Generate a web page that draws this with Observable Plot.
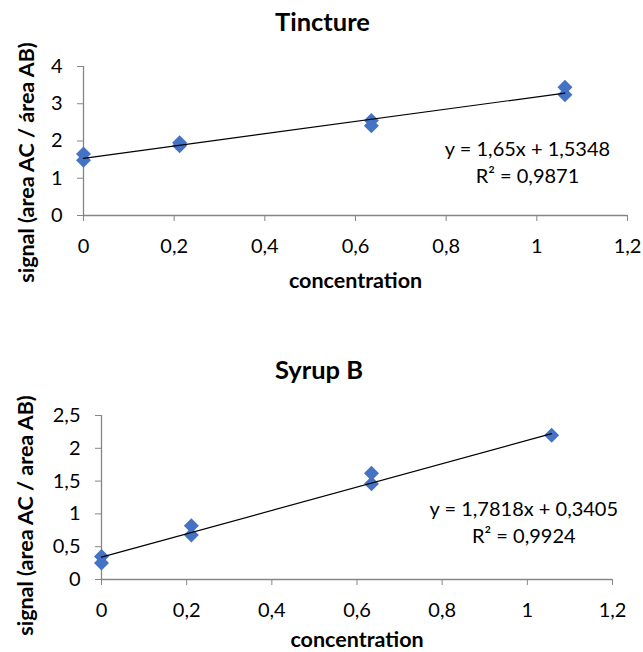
<!DOCTYPE html>
<html><head><meta charset="utf-8">
<script src="https://cdn.jsdelivr.net/npm/d3@7"></script>
<script src="https://cdn.jsdelivr.net/npm/@observablehq/plot@0.6"></script>
<style>
body{margin:0;background:#fff;font-family:Lato,sans-serif}
#wrap{position:relative;width:643px;height:652px;overflow:hidden}
.title{position:absolute;left:0;width:643px;text-align:center;font:bold 25.5px/25.5px Lato,sans-serif;color:#000}
.chart{position:absolute;left:0}
</style></head><body>
<div id="wrap"></div>
<script>
// ---- data ----
const titles = ["Tincture", "Syrup B"];
const yLabels = ["signal (area AC / área AB)", "signal (area AC / area AB)"];
const xLabel = "concentration";
const xTicks = [0, 0.2, 0.4, 0.6, 0.8, 1, 1.2];

const tinctureX = [0, 0, 0.212, 0.212, 0.635, 0.635, 1.062, 1.062];
const tinctureY = [1.65, 1.48, 1.95, 1.87, 2.55, 2.41, 3.44, 3.24];
const tinctureYTicks = [0, 1, 2, 3, 4];
const tinctureFit = {slope: 1.65, intercept: 1.5348};
const tinctureEq = ["y = 1,65x + 1,5348", "R² = 0,9871"];

const syrupX = [0, 0, 0.211, 0.211, 0.634, 0.634, 1.057];
const syrupY = [0.35, 0.25, 0.82, 0.68, 1.62, 1.46, 2.20];
const syrupYTicks = [0, 0.5, 1, 1.5, 2, 2.5];
const syrupFit = {slope: 1.7818, intercept: 0.3405};
const syrupEq = ["y = 1,7818x + 0,3405", "R² = 0,9924"];

// ---- drawing ----
const fmt = d => String(d).replace(".", ",");
const AXIS = "#868686";
const BLUE = "#4472C4";
const TICK_FS = 20, EQ_FS = 20, LABEL_FS = 21.5;
const wrap = document.getElementById("wrap");

function chart(o) {
  const pts = o.xs.map((x, i) => ({x, y: o.ys[i]}));
  const xmax = d3.max(o.xs);
  const fit = [0, xmax].map(x => ({x, y: o.fit.slope * x + o.fit.intercept}));
  const p = Plot.plot({
    width: 643, height: o.height,
    marginLeft: o.ml, marginRight: o.mr, marginTop: o.mt, marginBottom: o.mb,
    style: {fontFamily: "Lato, sans-serif", fontSize: TICK_FS + "px", background: "white", color: "#000", overflow: "visible"},
    x: {domain: [0, 1.2]},
    y: {domain: [0, d3.max(o.yTicks)]},
    marks: [
      Plot.axisX({ticks: xTicks, tickFormat: fmt, tickSize: 6, tickPadding: 17, stroke: AXIS, fill: "#000", fontSize: TICK_FS, label: null}),
      Plot.axisY({ticks: o.yTicks, tickFormat: fmt, tickSize: 6, tickPadding: 15, stroke: AXIS, fill: "#000", fontSize: TICK_FS, label: null}),
      Plot.ruleY([0], {stroke: AXIS, strokeWidth: 1.3}),
      Plot.ruleX([0], {stroke: AXIS, strokeWidth: 1.3}),
      Plot.dot(pts, {x: "x", y: "y", symbol: "diamond2", r: 6.75, fill: BLUE, stroke: "none"}),
      Plot.line(fit, {x: "x", y: "y", stroke: "#000", strokeWidth: 1.2}),
      Plot.text([o.eq[0]], {frameAnchor: "top-right", dx: o.eqdx, dy: o.eqdy1, text: d => d, textAnchor: "middle", lineAnchor: "middle", fontSize: EQ_FS, fill: "#000"}),
      Plot.text([o.eq[1]], {frameAnchor: "top-right", dx: o.eqdx, dy: o.eqdy2, text: d => d, textAnchor: "middle", lineAnchor: "middle", fontSize: EQ_FS, fill: "#000"}),
      Plot.text([xLabel], {frameAnchor: "bottom", dy: o.xldy, text: d => d, textAnchor: "middle", lineAnchor: "middle", fontSize: LABEL_FS, fontWeight: "bold", fill: "#000"}),
      Plot.text([o.ylabel], {frameAnchor: "left", dx: o.yldx, dy: o.yldy, rotate: -90, text: d => d, textAnchor: "middle", lineAnchor: "middle", fontSize: LABEL_FS, fontWeight: "bold", fill: "#000"})
    ]
  });
  p.classList.add("chart");
  p.style.top = o.top + "px";
  wrap.appendChild(p);
  const t = document.createElement("div");
  t.className = "title";
  t.textContent = o.title;
  t.style.top = o.titleTop + "px";
  t.style.left = o.titleDx + "px";
  wrap.appendChild(t);
}

chart({title: titles[0], titleTop: 9.1, titleDx: 1, ylabel: yLabels[0],
  xs: tinctureX, ys: tinctureY, yTicks: tinctureYTicks, fit: tinctureFit, eq: tinctureEq,
  top: 0, height: 300, ml: 83, mr: 16, mt: 66, mb: 85,
  eqdx: -100, eqdy1: 82.6, eqdy2: 109.6, xldy: 66, yldx: -56.6, yldy: 21.5});

chart({title: titles[1], titleTop: 357.4, titleDx: -2.5, ylabel: yLabels[1],
  xs: syrupX, ys: syrupY, yTicks: syrupYTicks, fit: syrupFit, eq: syrupEq,
  top: 300, height: 352, ml: 101, mr: 31, mt: 115, mb: 73,
  eqdx: -88.7, eqdy1: 94, eqdy2: 121, xldy: 61, yldx: -75.4, yldy: 18});
</script>
</body></html>
